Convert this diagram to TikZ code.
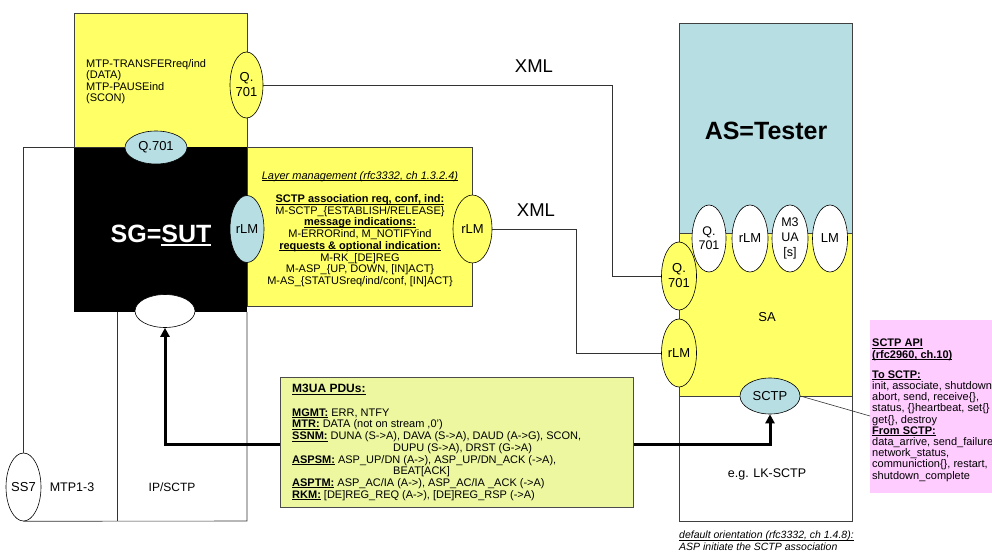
\documentclass[tikz,border=0pt]{standalone}
\usepackage{fontspec}
\setmainfont{Liberation Sans}
\usetikzlibrary{shapes.geometric,arrows.meta}
\definecolor{yel}{RGB}{255,255,102}
\definecolor{lblue}{RGB}{183,222,227}
\definecolor{mfill}{RGB}{236,247,160}
\definecolor{pinkc}{RGB}{255,204,255}
\newcommand\ulthick[1]{\setbox0\hbox{#1}\rlap{\rule[-3.5pt]{\wd0}{2pt}}\box0}
\newcommand\myul[1]{\setbox0\hbox{#1}\rlap{\rule[-1.7pt]{\wd0}{0.7pt}}\box0}
\newcommand\fs[2]{\fontsize{#1}{#2}\selectfont}
\begin{document}
\lineskiplimit=-20pt\relax
\begin{tikzpicture}[x=1pt,y=-1pt,
 box/.style={draw=black!75,line width=0.6pt},
 oval/.style={ellipse,draw=black,line width=0.6pt,inner sep=0pt,align=center,font=\fs{13}{15}},
 conn/.style={draw=black!80,line width=0.6pt},
 txt/.style={inner sep=0pt,font=\fs{11}{11.7}},
 bigtxt/.style={inner sep=0pt,font=\fs{25}{28}\bfseries},
 xmltxt/.style={inner sep=0pt,font=\fs{18.5}{20}},
 thickarr/.style={line width=3pt,{Triangle[length=9pt,width=9pt]}-{Triangle[length=9pt,width=9pt]}}
]
\useasboundingbox (0,0) rectangle (992,556);
\clip (0,0) rectangle (992,556);
\fill[white] (0,0) rectangle (992,556);

% boxes
\draw[box,fill=yel] (74,13) rectangle (247,147);
\fill[black] (74,147) rectangle (247,312);
\draw[box,fill=yel] (247,147) rectangle (472,306);
\draw[box,fill=lblue] (679,23) rectangle (852,233);
\draw[box,fill=yel] (679,233) rectangle (852,396);
\draw[box] (679,396) rectangle (852,521);
\fill[pinkc] (870,320) rectangle (1000,493);
\draw[conn] (117,312) -- (117,521);

% ellipses
\node[oval,fill=yel,minimum width=33pt,minimum height=66pt] (qy1) at (246.5,85) {Q.\\701};
\node[oval,fill=lblue,minimum width=62pt,minimum height=33pt] (qb1) at (156,147.5) {Q.701};
\node[oval,fill=lblue,minimum width=34pt,minimum height=67pt] (rb1) at (247,229) {rLM};
\node[oval,fill=white,minimum width=60pt,minimum height=33pt] (wh1) at (165,311) {};
\node[oval,fill=yel,minimum width=39pt,minimum height=68pt] (ry1) at (472.5,229) {rLM};
\node[oval,fill=white,minimum width=35pt,minimum height=68pt] (ss7) at (23.5,487) {SS7};
\node[oval,fill=yel,minimum width=35pt,minimum height=68pt] (qy2) at (679,276) {Q.\\701};
\node[oval,fill=yel,minimum width=35pt,minimum height=68pt] (ry2) at (679,353) {rLM};
\node[oval,fill=white,minimum width=34pt,minimum height=67pt,font=\fs{12.5}{14}] (w1) at (709,238.5) {Q.\\701};
\node[oval,fill=white,minimum width=36pt,minimum height=67pt] (w2) at (750,238.5) {rLM};
\node[oval,fill=white,minimum width=36pt,minimum height=67pt,font=\fs{12.5}{15}] (w3) at (790,238.5) {M3\\UA\\{[s]}};
\node[oval,fill=white,minimum width=35pt,minimum height=67pt] (w4) at (830,238.5) {LM};
\node[oval,fill=lblue,minimum width=60pt,minimum height=36pt] (sctp) at (770,396) {SCTP};

% connectors
\draw[conn] (ss7.south) -- (247,521) -- (247,312);
\draw[conn] (qb1.west) -| (ss7.north);
\draw[thickarr] (wh1.south) -- ++(0,117) -| (sctp.south);
\draw[conn] (qy1.east) -- ++(349,0) |- (qy2.west);
\draw[conn] (ry1.east) -- ++(84,0) |- (ry2.west);
\coordinate (pinkin) at (870,416);
\draw[conn] (sctp.east) -- (pinkin);

% M3UA box
\draw[line width=1pt,draw=black!70,fill=mfill] (280,377) rectangle (633,507);
\node[txt,anchor=north west,align=left] (m3t) at (292,384.4)
 {{\fs{12}{11.6}\textbf{\myul{M3UA PDUs:}}}\\[11.6pt]
 \textbf{\myul{MGMT:}} ERR, NTFY\\
 \textbf{\myul{MTR:}} DATA (not on stream ,0')\\
 \textbf{\myul{SSNM:}} DUNA (S->A), DAVA (S->A), DAUD (A->G), SCON,\\
 \hspace*{101pt}DUPU (S->A), DRST (G->A)\\
 \textbf{\myul{ASPSM:}} ASP\_UP/DN (A->), ASP\_UP/DN\_ACK (->A),\\
 \hspace*{101pt}BEAT[ACK]\\
 \textbf{\myul{ASPTM:}} ASP\_AC/IA (A->), ASP\_AC/IA \_ACK (->A)\\
 \textbf{\myul{RKM:}} [DE]REG\_REQ (A->), [DE]REG\_RSP (->A)};

% texts
\node[txt,anchor=north west,align=left,font=\fs{11}{11.5}] (mtpt) at (86,59)
 {MTP-TRANSFERreq/ind\\(DATA)\\MTP-PAUSEind\\(SCON)};
\node[bigtxt,text=white] (sgt) at (161,236) {SG=\ulthick{SUT}};
\node[txt,anchor=north,align=center] (lmt) at (360,171)
 {\textit{\myul{Layer management (rfc3332, ch 1.3.2.4)}}\\[11.7pt]
 \textbf{\myul{SCTP association req, conf, ind:}}\\
 M-SCTP\_\{ESTABLISH/RELEASE\}\\
 \textbf{\myul{message indications:}}\\
 M-ERRORind, M\_NOTIFYind\\
 \textbf{\myul{requests \& optional indication:}}\\
 M-RK\_[DE]REG\\
 M-ASP\_\{UP, DOWN, [IN]ACT\}\\
 M-AS\_\{STATUSreq/ind/conf, [IN]ACT\}};
\node[xmltxt] (xml1) at (534,66) {XML};
\node[xmltxt] (xml2) at (536,210) {XML};
\node[bigtxt] (ast) at (766,131) {AS=Tester};
\node[inner sep=0pt,font=\fs{13}{15}] (sat) at (767,317) {SA};
\node[inner sep=0pt,font=\fs{12.5}{15}] (lkt) at (767,474) {e.g. LK-SCTP};
\node[inner sep=0pt,font=\fs{12.5}{15}] (mtp13) at (72,487) {MTP1-3};
\node[inner sep=0pt,font=\fs{12}{15}] (ipt) at (172,487) {IP/SCTP};
\node[txt,anchor=north west,align=left,font=\fs{11}{11.2}] (apit) at (872,339)
 {\textbf{\myul{SCTP API}}\\
 \textbf{\myul{(rfc2960, ch.10)}}\\[9pt]
 \textbf{\myul{To SCTP:}}\\
 init, associate, shutdown\\
 abort, send, receive\{\},\\
 status, \{\}heartbeat, set\{\}\\
 get\{\}, destroy\\
 \textbf{\myul{From SCTP:}}\\
 data\_arrive, send\_failure\\
 network\_status,\\
 communiction\{\}, restart,\\
 shutdown\_complete};
\node[txt,anchor=north west,align=left,font=\fs{10.5}{12}\itshape] (deft) at (679,531)
 {\myul{default orientation (rfc3332, ch 1.4.8):}\\ASP initiate the SCTP association};
\end{tikzpicture}
\end{document}
